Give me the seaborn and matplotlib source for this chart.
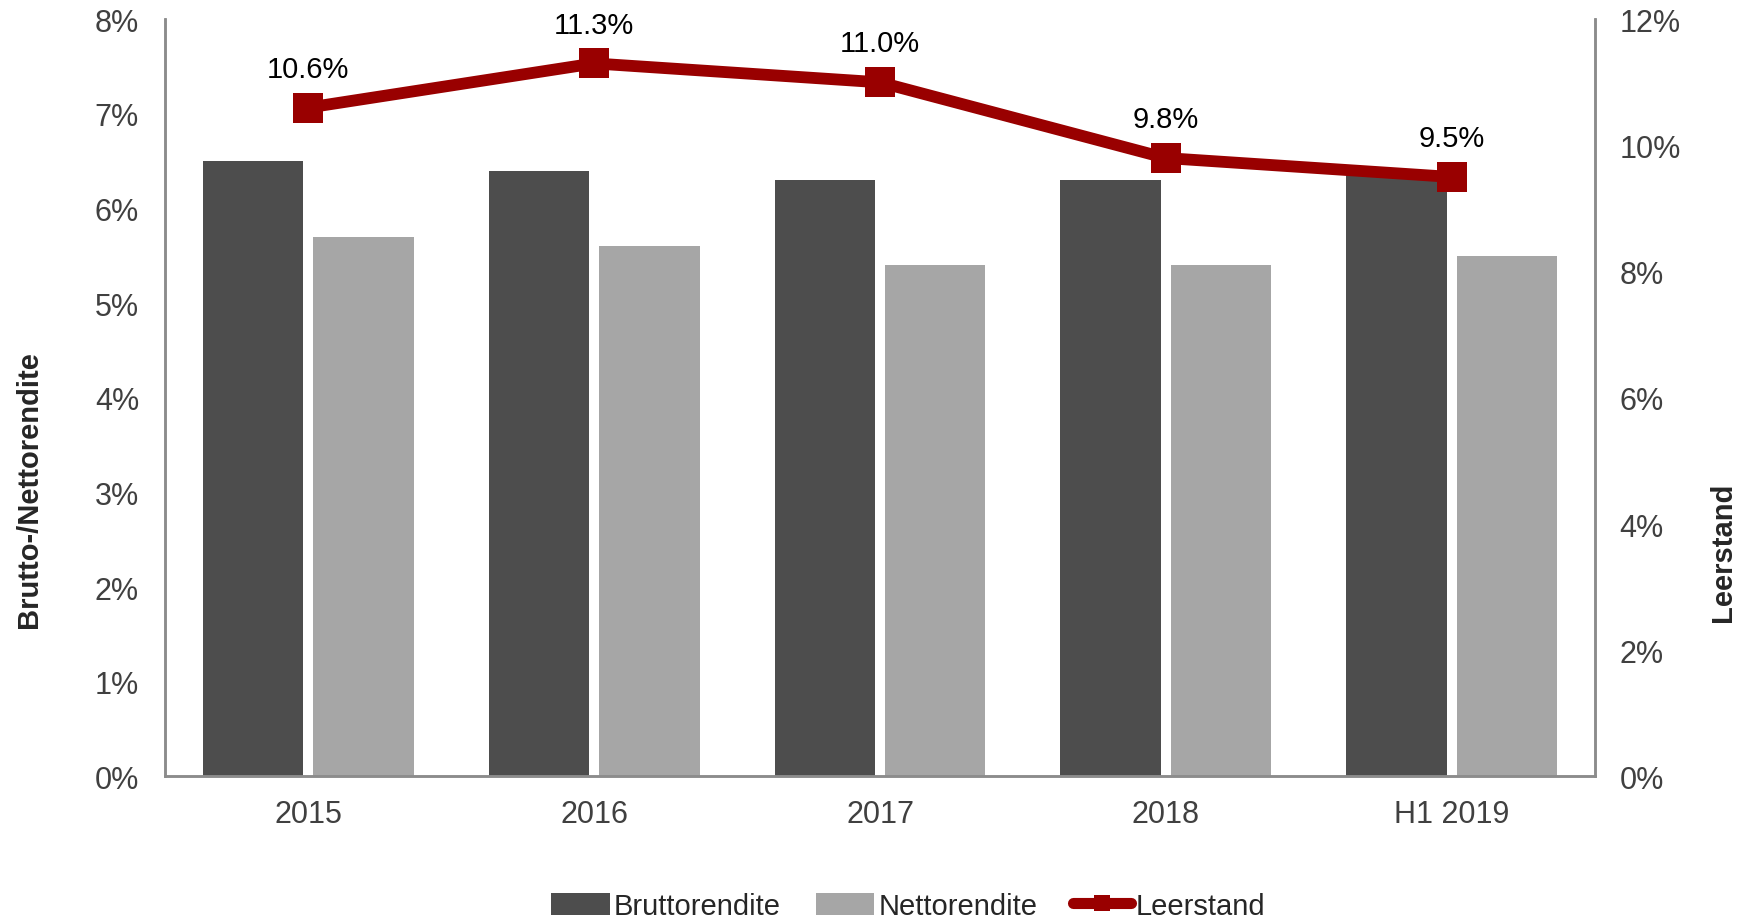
import numpy as np
import pandas as pd
import matplotlib.pyplot as plt
import seaborn as sns

# values
periods = ['2015', '2016', '2017', '2018', 'H1 2019']
brutto = [6.5, 6.4, 6.3, 6.3, 6.4]
netto = [5.7, 5.6, 5.4, 5.4, 5.5]
leerstand = [10.6, 11.3, 11.0, 9.8, 9.5]

sns.set_style('white')
plt.rcParams['font.family'] = ['Liberation Sans', 'DejaVu Sans']

df = pd.DataFrame({
    'Periode': periods * 2,
    'Wert': brutto + netto,
    'Serie': ['Bruttorendite'] * len(periods) + ['Nettorendite'] * len(periods),
})

fig, ax = plt.subplots(figsize=(17.6, 9.2), dpi=100)
fig.subplots_adjust(left=0.094, right=0.906, top=0.978, bottom=0.155)

sns.barplot(data=df, x='Periode', y='Wert', hue='Serie', ax=ax,
            palette=['#4d4d4d', '#a6a6a6'], width=0.772, gap=0.09,
            saturation=1, edgecolor='none', legend=True)

ax.set_xlim(-0.5, len(periods) - 0.5)
ax.set_ylim(0, 8)
ax.set_yticks(range(0, 9))
ax.set_yticklabels([f'{v}%' for v in range(0, 9)])
ax.set_xlabel('')
ax.set_ylabel('Brutto-/Nettorendite', fontsize=21, fontweight='bold')
ax.yaxis.set_label_coords(-0.086, 0.38)
ax.tick_params(axis='both', length=0, labelsize=22, labelcolor='#404040')
ax.tick_params(axis='y', pad=19)
ax.tick_params(axis='x', pad=16)

ax2 = ax.twinx()
pos = np.arange(len(periods))
sns.lineplot(x=pos, y=leerstand, ax=ax2, color='#990000', linewidth=8.5,
             marker='s', markersize=22, markeredgewidth=0, label='Leerstand')
ax2.set_ylim(0, 12)
ax2.set_yticks(range(0, 13, 2))
ax2.set_yticklabels([f'{v}%' for v in range(0, 13, 2)])
ax2.set_ylabel('Leerstand', fontsize=21, fontweight='bold')
ax2.yaxis.set_label_coords(1.08, 0.297)
ax2.tick_params(axis='y', length=0, labelsize=22, labelcolor='#404040', pad=18)

for x, v in zip(pos, leerstand):
    ax2.annotate(f'{v:.1f}%', (x, v), xytext=(0, 28), textcoords='offset points',
                 ha='center', va='center', fontsize=21, color='black')

for a in (ax, ax2):
    a.spines['top'].set_visible(False)
    for s in ('left', 'right', 'bottom'):
        a.spines[s].set_color('#8c8c8c')
        a.spines[s].set_linewidth(1.8)

h1, l1 = ax.get_legend_handles_labels()
h2, l2 = ax2.get_legend_handles_labels()
ax.get_legend().remove()
ax2.get_legend().remove()
leg = fig.legend(h1 + h2, l1 + l2, loc='center', bbox_to_anchor=(0.516, 0.014),
                 ncol=3, frameon=False, fontsize=21, handlelength=2.0,
                 handleheight=0.8, handletextpad=0.15, columnspacing=1.2)
leg.legend_handles[2].set_markersize(12)
leg.legend_handles[2].set_linewidth(8)

fig.savefig('out.png', dpi=100)
